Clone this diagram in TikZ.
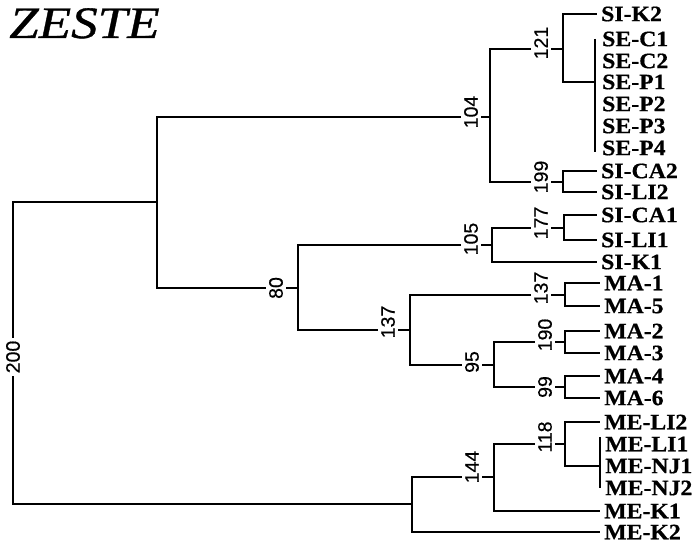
\documentclass[tikz,border=0pt]{standalone}
\usepackage{fontspec}
\setmainfont{Liberation Serif}
\newfontfamily\leaffont{Liberation Serif}[FakeStretch=1.08,FakeBold=0.6]
\newfontfamily\numfont{Liberation Sans}[FakeBold=0.5]
\newfontfamily\titlefont{Liberation Serif}[FakeStretch=1.18,FakeBold=0.8]

\begin{document}
\begin{tikzpicture}[x=1pt,y=-1pt,
    leaf/.style={anchor=west,inner sep=0pt,inner xsep=4pt,font={\leaffont\bfseries\fontsize{22}{24}\selectfont}},
    boot/.style={rotate=90,fill=white,inner sep=3pt,font={\numfont\fontsize{19.5}{19.5}\selectfont}},
    branch/.style={line width=2.3pt}]
  \useasboundingbox (0,0) rectangle (697,543);
  \node[anchor=base west,inner sep=0pt,font={\titlefont\itshape\fontsize{45}{45}\selectfont}] (title) at (9,38) {ZESTE};

  % leaves
  \node[leaf] (sik2) at (597,14) {SI-K2};
  \node[leaf,inner xsep=7pt] (sec1) at (595,39) {SE-C1};
  \node[leaf,inner xsep=7pt] (sec2) at (595,61) {SE-C2};
  \node[leaf,inner xsep=7pt] (sep1) at (595,82) {SE-P1};
  \node[leaf,inner xsep=7pt] (sep2) at (595,104) {SE-P2};
  \node[leaf,inner xsep=7pt] (sep3) at (595,126) {SE-P3};
  \node[leaf,inner xsep=7pt] (sep4) at (595,148) {SE-P4};
  \node[leaf] (sica2) at (597,171) {SI-CA2};
  \node[leaf] (sili2) at (597,192) {SI-LI2};
  \node[leaf] (sica1) at (597,215) {SI-CA1};
  \node[leaf] (sili1) at (597,240) {SI-LI1};
  \node[leaf] (sik1) at (597,262) {SI-K1};
  \node[leaf] (ma1) at (600,283) {MA-1};
  \node[leaf] (ma5) at (600,306) {MA-5};
  \node[leaf] (ma2) at (600,331) {MA-2};
  \node[leaf] (ma3) at (600,353) {MA-3};
  \node[leaf] (ma4) at (600,376) {MA-4};
  \node[leaf] (ma6) at (600,398) {MA-6};
  \node[leaf] (meli2) at (600,422) {ME-LI2};
  \node[leaf,inner xsep=5pt] (meli1) at (600,444) {ME-LI1};
  \node[leaf,inner xsep=5pt] (menj1) at (600,466) {ME-NJ1};
  \node[leaf,inner xsep=5pt] (menj2) at (600,488) {ME-NJ2};
  \node[leaf] (mek1) at (600,511) {ME-K1};
  \node[leaf] (mek2) at (600,532) {ME-K2};

  % branching points
  \coordinate (root) at (13,353);
  \coordinate (na) at (157,202);
  \coordinate (n104) at (490,117);
  \coordinate (n121) at (563,49);
  \coordinate (n199) at (563,182);
  \coordinate (n80) at (298,288);
  \coordinate (n105) at (492,245);
  \coordinate (n177) at (564,228);
  \coordinate (n137a) at (410,330);
  \coordinate (n137b) at (565,295);
  \coordinate (n95) at (494,365);
  \coordinate (n190) at (565,342);
  \coordinate (n99) at (565,387);
  \coordinate (nb) at (412,504);
  \coordinate (n144) at (494,477);
  \coordinate (n118) at (565,444);

  \draw[branch] (root) |- (na);
  \draw[branch] (root) |- (nb);
  \draw[branch] (na) |- (n104);
  \draw[branch] (na) |- (n80);
  \draw[branch] (n104) |- (n121);
  \draw[branch] (n104) |- (n199);
  \draw[branch] (n121) |- (sik2.west);
  \draw[branch] (n121) |- (sep1.west);
  \draw[branch] (sec1.west) -- ([yshift=-4pt]sep4.west);
  \draw[branch] (n199) |- (sica2.west);
  \draw[branch] (n199) |- (sili2.west);
  \draw[branch] (n80) |- (n105);
  \draw[branch] (n80) |- (n137a);
  \draw[branch] (n105) |- (n177);
  \draw[branch] (n105) |- (sik1.west);
  \draw[branch] (n177) |- (sica1.west);
  \draw[branch] (n177) |- (sili1.west);
  \draw[branch] (n137a) |- (n137b);
  \draw[branch] (n137a) |- (n95);
  \draw[branch] (n137b) |- (ma1.west);
  \draw[branch] (n137b) |- (ma5.west);
  \draw[branch] (n95) |- (n190);
  \draw[branch] (n95) |- (n99);
  \draw[branch] (n190) |- (ma2.west);
  \draw[branch] (n190) |- (ma3.west);
  \draw[branch] (n99) |- (ma4.west);
  \draw[branch] (n99) |- (ma6.west);
  \draw[branch] (nb) |- (n144);
  \draw[branch] (nb) |- (mek2.west);
  \draw[branch] (n144) |- (n118);
  \draw[branch] (n144) |- (mek1.west);
  \draw[branch] (n118) |- (meli2.west);
  \draw[branch] (n118) |- (menj1.west);
  \draw[branch] ([yshift=7pt]meli1.west) -- (menj2.west);

  % bootstrap values
  \node[boot] (l200) at (13,357) {200};
  \node[boot] (l104) at (471,112) {104};
  \node[boot] (l121) at (541,43) {121};
  \node[boot] (l199) at (541,177) {199};
  \node[boot] (l80) at (276,288) {80};
  \node[boot] (l105) at (471,239) {105};
  \node[boot] (l177) at (541,223) {177};
  \node[boot] (l137a) at (388,322) {137};
  \node[boot] (l137b) at (541,288) {137};
  \node[boot] (l95) at (472,362) {95};
  \node[boot] (l190) at (545,335) {190};
  \node[boot] (l99) at (545,387) {99};
  \node[boot] (l144) at (472,467) {144};
  \node[boot] (l118) at (545,437) {118};
\end{tikzpicture}
\end{document}
